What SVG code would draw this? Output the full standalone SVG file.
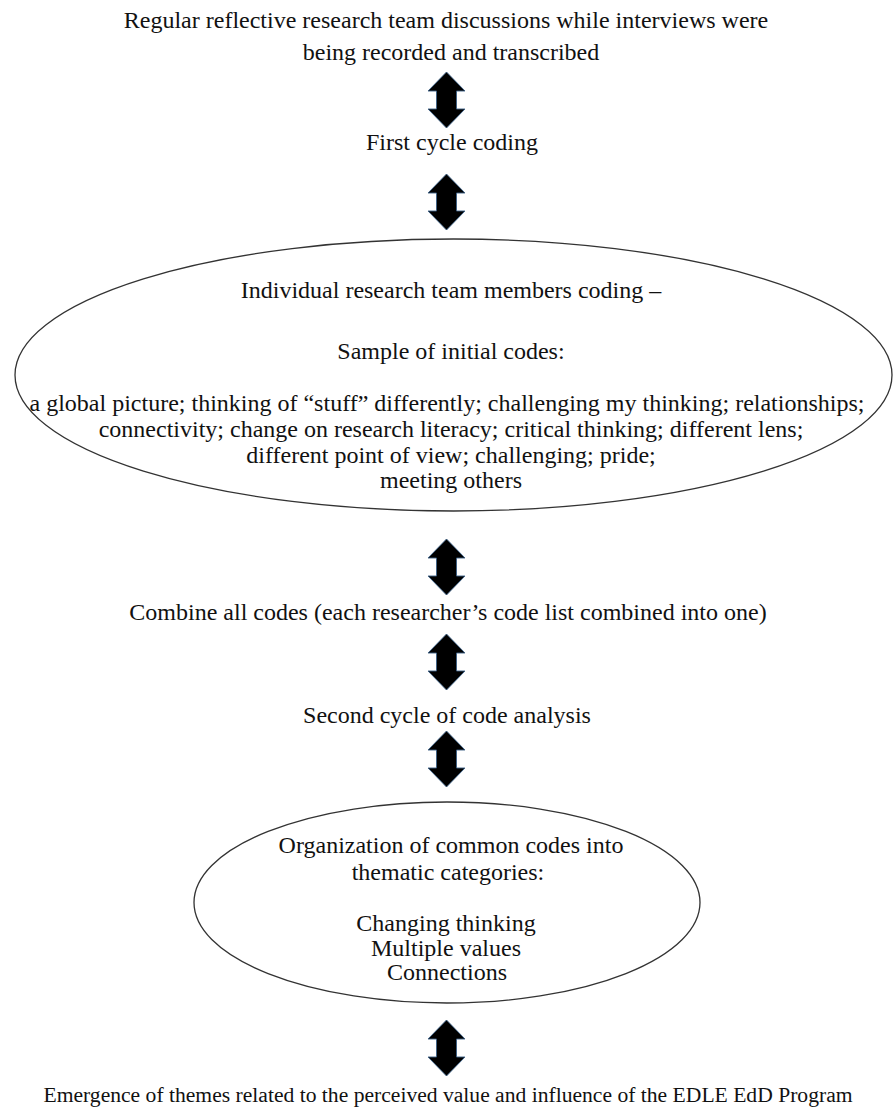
<svg xmlns="http://www.w3.org/2000/svg" width="895" height="1115" viewBox="0 0 895 1115">
<style>
  text { font-family: "Liberation Serif", "Times New Roman", serif; font-size: 24px; fill: #111; text-anchor: middle; }
  .ell { fill: #fff; stroke: #333; stroke-width: 1.3; }
  .arr { fill: #000; stroke: #3a5f85; stroke-width: 0.9; stroke-linejoin: miter; }
</style>
<defs>
  <path id="dbl" class="arr" d="M0,0 L18.5,19 L10,19 L10,37 L18.5,37 L0,56 L-18.5,37 L-10,37 L-10,19 L-18.5,19 Z"/>
</defs>
<rect width="895" height="1115" fill="#fff"/>
<g id="connectors">
  <use href="#dbl" x="446.5" y="72"/>
  <use href="#dbl" x="446.5" y="174"/>
  <use href="#dbl" x="446.5" y="539"/>
  <use href="#dbl" x="446.5" y="634"/>
  <use href="#dbl" x="446.5" y="731"/>
  <use href="#dbl" x="446.5" y="1020"/>
</g>
<g id="node-discussions">
  <text x="446" y="28">Regular reflective research team discussions while interviews were</text>
  <text x="451" y="60">being recorded and transcribed</text>
</g>
<g id="node-first-cycle">
  <text x="452" y="150">First cycle coding</text>
</g>
<g id="node-individual">
  <ellipse class="ell" cx="453.5" cy="375" rx="438.5" ry="136"/>
  <text x="451" y="298">Individual research team members coding –</text>
  <text x="451" y="359">Sample of initial codes:</text>
  <text x="447" y="411">a global picture; thinking of “stuff” differently; challenging my thinking; relationships;</text>
  <text x="451" y="437">connectivity; change on research literacy; critical thinking; different lens;</text>
  <text x="451" y="463">different point of view; challenging; pride;</text>
  <text x="451" y="488">meeting others</text>
</g>
<g id="node-combine">
  <text x="448" y="620">Combine all codes (each researcher’s code list combined into one)</text>
</g>
<g id="node-second-cycle">
  <text x="447" y="723">Second cycle of code analysis</text>
</g>
<g id="node-organization">
  <ellipse class="ell" cx="447" cy="902.5" rx="253" ry="100.5"/>
  <text x="451" y="853">Organization of common codes into</text>
  <text x="448" y="880">thematic categories:</text>
  <text x="446" y="931">Changing thinking</text>
  <text x="446" y="956">Multiple values</text>
  <text x="447" y="980">Connections</text>
</g>
<g id="node-emergence">
  <text x="448" y="1102" style="font-size:21.6px">Emergence of themes related to the perceived value and influence of the EDLE EdD Program</text>
</g>
</svg>
